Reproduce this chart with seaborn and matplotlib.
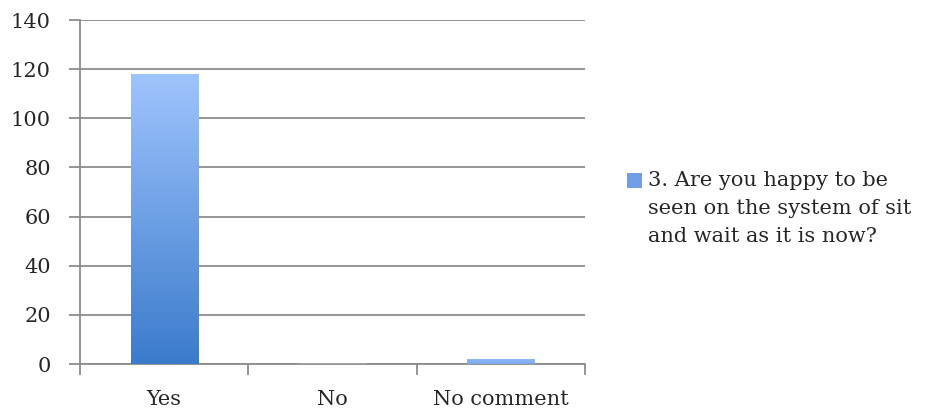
import seaborn as sns
import matplotlib.pyplot as plt
import matplotlib.colors as mcolors
from matplotlib.patches import Rectangle
from matplotlib.legend_handler import HandlerPatch
import numpy as np
import pandas as pd

# survey answers
answers = ['Yes', 'No', 'No comment']
counts = [118, 0, 2]
legend_label = '3. Are you happy to be\nseen on the system of sit\nand wait as it is now?'
y_ticks = [0, 20, 40, 60, 80, 100, 120, 140]

df = pd.DataFrame({'answer': answers, 'count': counts})

sns.set_style('white')
plt.rcParams['font.family'] = ['DejaVu Serif', 'Liberation Serif']
FS = 15

fig = plt.figure(figsize=(9.33, 4.13), dpi=100)
ax = fig.add_axes([80 / 933, 1 - 364 / 413, 505 / 933, 344 / 413])

sns.barplot(data=df, x='answer', y='count', color='#4a86d4', width=0.4,
            ax=ax, zorder=3)

# gradient fill for each bar, light at the top, darker at the bottom
grad_cmap = mcolors.LinearSegmentedColormap.from_list('bar', ['#3b7bcc', '#9fc4fd'])
gradient = np.linspace(0, 1, 256).reshape(-1, 1)
for patch in ax.patches:
    x0, y0 = patch.get_x(), patch.get_y()
    w, h = patch.get_width(), patch.get_height()
    if h <= 0:
        continue
    patch.set_facecolor('none')
    patch.set_edgecolor('none')
    img = ax.imshow(gradient, cmap=grad_cmap, aspect='auto', origin='lower',
                    extent=[x0, x0 + w, y0, y0 + h], zorder=3,
                    vmin=0, vmax=1)
    img.set_clip_path(patch)
    if h < 10:
        # thin bar only shows the light top color
        img.set_cmap(mcolors.LinearSegmentedColormap.from_list('thin', ['#7aa9ee', '#8fb9f8']))

ax.set_xlim(-0.5, 2.5)
ax.set_ylim(0, 140)
ax.set_yticks(y_ticks)
ax.set_xlabel('')
ax.set_ylabel('')

# grid lines and axis styling
ax.grid(axis='y', color='#8c8c8c', linewidth=1.3, zorder=0)
for side in ['top', 'right']:
    ax.spines[side].set_visible(False)
for side in ['left', 'bottom']:
    ax.spines[side].set_color('#8c8c8c')
    ax.spines[side].set_linewidth(1.3)

ax.tick_params(axis='y', length=8, width=1.3, color='#8c8c8c', labelsize=FS, pad=13, left=True)
ax.tick_params(axis='x', length=0, labelsize=FS, pad=19)
# tick marks between categories
ax.set_xticks([-0.5, 0.5, 1.5, 2.5], minor=True)
ax.tick_params(axis='x', which='minor', length=8, width=1.3, color='#8c8c8c', bottom=True)


# legend square sits next to the first line of text
def top_square(legend, orig_handle, xdescent, ydescent, width, height, fontsize):
    s = 0.7 * fontsize
    return Rectangle((-xdescent, -ydescent + height - s + 0.25 * fontsize), s, s)


key = Rectangle((0, 0), 1, 1, facecolor='#6f9fe6', edgecolor='none')
leg = ax.legend(handles=[key], labels=[legend_label],
                loc='upper left', bbox_to_anchor=(627 / 933, 1 - 171 / 413),
                bbox_transform=fig.transFigure, frameon=False, fontsize=FS,
                handlelength=0.7, handleheight=4.4, handletextpad=0.33,
                borderpad=0, borderaxespad=0,
                handler_map={Rectangle: HandlerPatch(patch_func=top_square)})
for t in leg.get_texts():
    t.set_linespacing(1.6)

fig.savefig('out.png', dpi=100)
